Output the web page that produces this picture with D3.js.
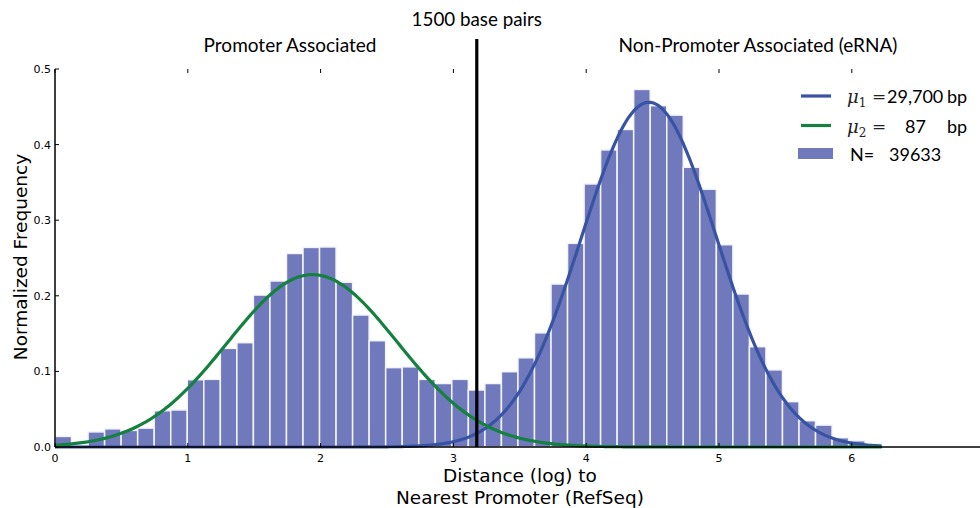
<!DOCTYPE html>
<html>
<head>
<meta charset="utf-8">
<script src="https://cdn.jsdelivr.net/npm/d3@7"></script>
<style>
  html, body { margin: 0; padding: 0; background: #fff; }
  svg { display: block; }
</style>
</head>
<body>
<svg id="chart" width="980" height="508"></svg>
<script>
// Histogram of log10 distance to nearest RefSeq promoter (50 bins from 0)
const binStart = 0;
const binWidth = 0.1245;
const binFreq = [
  0.014, 0.002, 0.020, 0.024, 0.022, 0.025, 0.048, 0.049, 0.089, 0.0895,
  0.1305, 0.138, 0.201, 0.2196, 0.256, 0.264, 0.2646, 0.218, 0.1746, 0.1406,
  0.105, 0.106, 0.0895, 0.084, 0.0895, 0.0754, 0.084, 0.0996, 0.118, 0.151,
  0.2156, 0.2694, 0.348, 0.393, 0.420, 0.473, 0.4515, 0.439, 0.370, 0.341,
  0.2676, 0.2024, 0.1327, 0.102, 0.060, 0.0348, 0.029, 0.0123, 0.0083, 0.004
];

// Fitted Gaussian components (means in base pairs, widths in log10 units)
const componentNames = ["distal", "proximal"];
const componentMeanBp = [29700, 87];
const componentSigma = [0.51, 0.64];
const componentPeak = [0.456, 0.228];
const componentColors = ["#3953a4", "#15803f"];

const cutoffBp = 1500;
const sampleCount = 39633;

const xTicks = [0, 1, 2, 3, 4, 5, 6];
const yTicks = [0.0, 0.1, 0.2, 0.3, 0.4, 0.5];

const svg = d3.select("#chart");
const W = 980, H = 508;

const x = d3.scaleLinear().domain([0, 7]).range([55, 984.6]);
const y = d3.scaleLinear().domain([0, 0.5]).range([447, 69]);

const barFill = "#6f79bb";

// Bars
svg.append("g").selectAll("rect")
  .data(binFreq)
  .join("rect")
  .attr("x", (d, i) => x(binStart + i * binWidth))
  .attr("width", x(binWidth) - x(0))
  .attr("y", d => y(d))
  .attr("height", d => y(0) - y(d))
  .attr("fill", barFill)
  .attr("stroke", "#f4f5fb")
  .attr("stroke-width", 1.5);

// Gaussian fit curves
const histEnd = binStart + binFreq.length * binWidth;
const xs = d3.range(0, 401).map(k => binStart + (histEnd - binStart) * k / 400);
const line = d3.line().x(d => x(d[0])).y(d => y(d[1]));
componentMeanBp.forEach((bp, j) => {
  const mu = Math.log10(bp), s = componentSigma[j], a = componentPeak[j];
  const pts = xs.map(v => [v, a * Math.exp(-((v - mu) ** 2) / (2 * s * s))]);
  svg.append("path")
    .attr("d", line(pts))
    .attr("fill", "none")
    .attr("stroke", componentColors[j])
    .attr("stroke-width", 3.2)
    .attr("stroke-linejoin", "round");
});

// Cutoff line at 1500 bp
const cutX = x(Math.log10(cutoffBp));
svg.append("line")
  .attr("x1", cutX).attr("x2", cutX)
  .attr("y1", 39).attr("y2", y(0))
  .attr("stroke", "#000").attr("stroke-width", 3.2);

// Axes (inward ticks, spines on left and bottom)
const tickFont = "DejaVu Sans, sans-serif";
const axisG = svg.append("g");
axisG.append("line")
  .attr("x1", x(0)).attr("x2", W).attr("y1", y(0)).attr("y2", y(0))
  .attr("stroke", "#000").attr("stroke-width", 1.5);
axisG.append("line")
  .attr("x1", x(0)).attr("x2", x(0)).attr("y1", y(0.5)).attr("y2", y(0))
  .attr("stroke", "#000").attr("stroke-width", 1.5);

xTicks.forEach(t => {
  axisG.append("line")
    .attr("x1", x(t)).attr("x2", x(t)).attr("y1", y(0)).attr("y2", y(0) - 4)
    .attr("stroke", "#000").attr("stroke-width", 1);
  axisG.append("line")
    .attr("x1", x(t)).attr("x2", x(t)).attr("y1", y(0.5)).attr("y2", y(0.5) + 4)
    .attr("stroke", "#000").attr("stroke-width", 1);
  axisG.append("text")
    .attr("x", x(t)).attr("y", 462)
    .attr("text-anchor", "middle")
    .attr("font-family", tickFont).attr("font-size", 11)
    .attr("fill", "#000")
    .text(d3.format("d")(t));
});

yTicks.forEach(t => {
  axisG.append("line")
    .attr("x1", x(0)).attr("x2", x(0) + 4).attr("y1", y(t)).attr("y2", y(t))
    .attr("stroke", "#000").attr("stroke-width", 1);
  axisG.append("text")
    .attr("x", 51).attr("y", y(t) + 4)
    .attr("text-anchor", "end")
    .attr("font-family", tickFont).attr("font-size", 11)
    .attr("fill", "#000")
    .text(d3.format(".1f")(t));
});

// Axis titles
svg.append("text")
  .attr("transform", "translate(27,257) rotate(-90)")
  .attr("text-anchor", "middle")
  .attr("font-family", tickFont).attr("font-size", 18.5)
  .attr("fill", "#000")
  .text("Normalized Frequency");

const xl = svg.append("text")
  .attr("text-anchor", "middle")
  .attr("font-family", tickFont).attr("font-size", 18.5)
  .attr("fill", "#000");
xl.append("tspan").attr("x", 520).attr("y", 482).text("Distance (log) to");
xl.append("tspan").attr("x", 520).attr("y", 504).text("Nearest Promoter (RefSeq)");

// Region headings
const headFont = "Lato, 'Open Sans', sans-serif";
svg.append("text")
  .attr("x", cutX).attr("y", 26)
  .attr("text-anchor", "middle")
  .attr("font-family", headFont).attr("font-size", 18.8)
  .attr("fill", "#000")
  .text(d3.format("d")(cutoffBp) + " base pairs");
svg.append("text")
  .attr("x", 290).attr("y", 52)
  .attr("text-anchor", "middle")
  .attr("font-family", headFont).attr("font-size", 19)
  .attr("fill", "#000")
  .text("Promoter Associated");
svg.append("text")
  .attr("x", 758).attr("y", 52)
  .attr("text-anchor", "middle")
  .attr("font-family", headFont).attr("font-size", 19)
  .attr("fill", "#000")
  .text("Non-Promoter Associated (eRNA)");

// Legend
const legFont = "Lato, 'Open Sans', sans-serif";
const mathFont = "'DejaVu Serif', serif";
const legRows = [
  { yLine: 96, yText: 103, color: componentColors[0], sub: "1", num: d3.format(",")(componentMeanBp[0]), numX: 887, eqX: 872 },
  { yLine: 125.5, yText: 133, color: componentColors[1], sub: "2", num: d3.format(",")(componentMeanBp[1]), numX: 905, eqX: 872 }
];
legRows.forEach(r => {
  svg.append("line")
    .attr("x1", 801).attr("x2", 831).attr("y1", r.yLine).attr("y2", r.yLine)
    .attr("stroke", r.color).attr("stroke-width", 3.2);
  const m = svg.append("text")
    .attr("x", 847).attr("y", r.yText)
    .attr("font-family", mathFont).attr("font-style", "italic")
    .attr("font-size", 18).attr("fill", "#222");
  m.append("tspan").text("μ");
  m.append("tspan").attr("font-size", 12).attr("font-style", "normal")
    .attr("dy", 4).text(r.sub);
  svg.append("text")
    .attr("x", r.eqX).attr("y", r.yText - 1)
    .attr("font-family", mathFont).attr("font-size", 17).attr("fill", "#222")
    .text("=");
  svg.append("text")
    .attr("x", r.numX).attr("y", r.yText)
    .attr("font-family", legFont).attr("font-size", 18).attr("fill", "#000")
    .text(r.num);
  svg.append("text")
    .attr("x", 947).attr("y", r.yText)
    .attr("font-family", legFont).attr("font-size", 18).attr("fill", "#000")
    .text("bp");
});
svg.append("rect")
  .attr("x", 798).attr("y", 148).attr("width", 35).attr("height", 11)
  .attr("fill", barFill);
svg.append("text")
  .attr("x", 850).attr("y", 161)
  .attr("font-family", legFont).attr("font-size", 18).attr("fill", "#000")
  .text("N=");
svg.append("text")
  .attr("x", 889).attr("y", 161)
  .attr("font-family", legFont).attr("font-size", 18).attr("fill", "#000")
  .text(String(sampleCount));
</script>
</body>
</html>
